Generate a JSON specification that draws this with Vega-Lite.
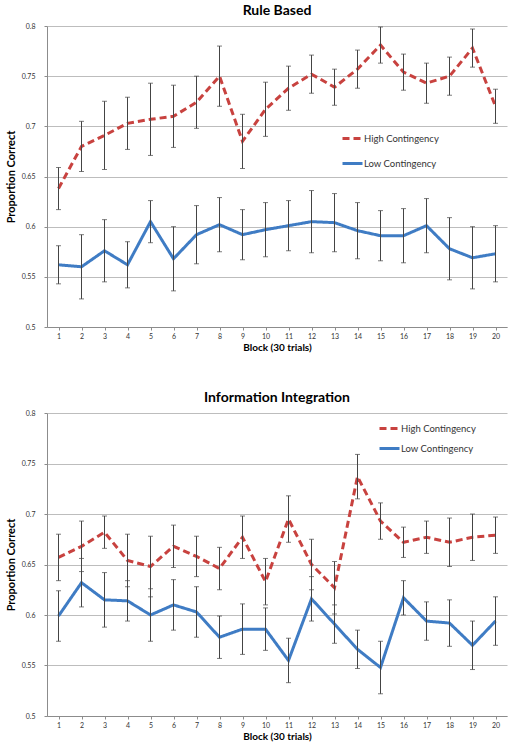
{
  "$schema": "https://vega.github.io/schema/vega-lite/v6.json",
  "padding": {"left": 5, "top": 4, "right": 5, "bottom": 4},
  "background": "white",
  "config": {
    "font": "Lato",
    "view": {"stroke": null},
    "title": {"fontSize": 14, "fontWeight": "bold", "color": "#000000", "offset": 4, "anchor": "middle"},
    "axis": {
      "labelFontSize": 7,
      "labelColor": "#333333",
      "titleFontSize": 11,
      "titleFontWeight": "bold",
      "titleColor": "#000000",
      "domainColor": "#8c8c8c",
      "tickColor": "#8c8c8c",
      "gridColor": "#bdbdbd",
      "gridWidth": 1
    },
    "legend": {"labelFontSize": 9.5, "labelColor": "#333333"}
  },
  "datasets": {
    "rb": [
      {"b": 1, "s": "High Contingency", "v": 0.638, "lo": 0.617, "hi": 0.659},
      {"b": 2, "s": "High Contingency", "v": 0.680, "lo": 0.655, "hi": 0.705},
      {"b": 3, "s": "High Contingency", "v": 0.691, "lo": 0.657, "hi": 0.725},
      {"b": 4, "s": "High Contingency", "v": 0.703, "lo": 0.677, "hi": 0.729},
      {"b": 5, "s": "High Contingency", "v": 0.707, "lo": 0.671, "hi": 0.743},
      {"b": 6, "s": "High Contingency", "v": 0.710, "lo": 0.679, "hi": 0.741},
      {"b": 7, "s": "High Contingency", "v": 0.724, "lo": 0.698, "hi": 0.750},
      {"b": 8, "s": "High Contingency", "v": 0.750, "lo": 0.720, "hi": 0.780},
      {"b": 9, "s": "High Contingency", "v": 0.685, "lo": 0.658, "hi": 0.712},
      {"b": 10, "s": "High Contingency", "v": 0.717, "lo": 0.690, "hi": 0.744},
      {"b": 11, "s": "High Contingency", "v": 0.738, "lo": 0.716, "hi": 0.760},
      {"b": 12, "s": "High Contingency", "v": 0.752, "lo": 0.733, "hi": 0.771},
      {"b": 13, "s": "High Contingency", "v": 0.739, "lo": 0.721, "hi": 0.757},
      {"b": 14, "s": "High Contingency", "v": 0.757, "lo": 0.738, "hi": 0.776},
      {"b": 15, "s": "High Contingency", "v": 0.781, "lo": 0.763, "hi": 0.799},
      {"b": 16, "s": "High Contingency", "v": 0.754, "lo": 0.736, "hi": 0.772},
      {"b": 17, "s": "High Contingency", "v": 0.743, "lo": 0.723, "hi": 0.763},
      {"b": 18, "s": "High Contingency", "v": 0.750, "lo": 0.731, "hi": 0.769},
      {"b": 19, "s": "High Contingency", "v": 0.778, "lo": 0.759, "hi": 0.797},
      {"b": 20, "s": "High Contingency", "v": 0.720, "lo": 0.703, "hi": 0.737},
      {"b": 1, "s": "Low Contingency", "v": 0.562, "lo": 0.543, "hi": 0.581},
      {"b": 2, "s": "Low Contingency", "v": 0.560, "lo": 0.528, "hi": 0.592},
      {"b": 3, "s": "Low Contingency", "v": 0.576, "lo": 0.545, "hi": 0.607},
      {"b": 4, "s": "Low Contingency", "v": 0.562, "lo": 0.539, "hi": 0.585},
      {"b": 5, "s": "Low Contingency", "v": 0.605, "lo": 0.584, "hi": 0.626},
      {"b": 6, "s": "Low Contingency", "v": 0.568, "lo": 0.536, "hi": 0.600},
      {"b": 7, "s": "Low Contingency", "v": 0.592, "lo": 0.563, "hi": 0.621},
      {"b": 8, "s": "Low Contingency", "v": 0.602, "lo": 0.575, "hi": 0.629},
      {"b": 9, "s": "Low Contingency", "v": 0.592, "lo": 0.567, "hi": 0.617},
      {"b": 10, "s": "Low Contingency", "v": 0.597, "lo": 0.570, "hi": 0.624},
      {"b": 11, "s": "Low Contingency", "v": 0.601, "lo": 0.576, "hi": 0.626},
      {"b": 12, "s": "Low Contingency", "v": 0.605, "lo": 0.574, "hi": 0.636},
      {"b": 13, "s": "Low Contingency", "v": 0.604, "lo": 0.575, "hi": 0.633},
      {"b": 14, "s": "Low Contingency", "v": 0.596, "lo": 0.568, "hi": 0.624},
      {"b": 15, "s": "Low Contingency", "v": 0.591, "lo": 0.566, "hi": 0.616},
      {"b": 16, "s": "Low Contingency", "v": 0.591, "lo": 0.564, "hi": 0.618},
      {"b": 17, "s": "Low Contingency", "v": 0.601, "lo": 0.574, "hi": 0.628},
      {"b": 18, "s": "Low Contingency", "v": 0.578, "lo": 0.547, "hi": 0.609},
      {"b": 19, "s": "Low Contingency", "v": 0.569, "lo": 0.538, "hi": 0.600},
      {"b": 20, "s": "Low Contingency", "v": 0.573, "lo": 0.545, "hi": 0.601}
    ],
    "ii": [
      {"b": 1, "s": "High Contingency", "v": 0.657, "lo": 0.634, "hi": 0.680},
      {"b": 2, "s": "High Contingency", "v": 0.668, "lo": 0.643, "hi": 0.693},
      {"b": 3, "s": "High Contingency", "v": 0.682, "lo": 0.666, "hi": 0.698},
      {"b": 4, "s": "High Contingency", "v": 0.654, "lo": 0.628, "hi": 0.680},
      {"b": 5, "s": "High Contingency", "v": 0.648, "lo": 0.618, "hi": 0.678},
      {"b": 6, "s": "High Contingency", "v": 0.668, "lo": 0.647, "hi": 0.689},
      {"b": 7, "s": "High Contingency", "v": 0.658, "lo": 0.638, "hi": 0.678},
      {"b": 8, "s": "High Contingency", "v": 0.646, "lo": 0.625, "hi": 0.667},
      {"b": 9, "s": "High Contingency", "v": 0.677, "lo": 0.656, "hi": 0.698},
      {"b": 10, "s": "High Contingency", "v": 0.633, "lo": 0.610, "hi": 0.656},
      {"b": 11, "s": "High Contingency", "v": 0.695, "lo": 0.672, "hi": 0.718},
      {"b": 12, "s": "High Contingency", "v": 0.650, "lo": 0.625, "hi": 0.675},
      {"b": 13, "s": "High Contingency", "v": 0.627, "lo": 0.601, "hi": 0.653},
      {"b": 14, "s": "High Contingency", "v": 0.737, "lo": 0.715, "hi": 0.759},
      {"b": 15, "s": "High Contingency", "v": 0.693, "lo": 0.675, "hi": 0.711},
      {"b": 16, "s": "High Contingency", "v": 0.672, "lo": 0.657, "hi": 0.687},
      {"b": 17, "s": "High Contingency", "v": 0.677, "lo": 0.661, "hi": 0.693},
      {"b": 18, "s": "High Contingency", "v": 0.672, "lo": 0.648, "hi": 0.696},
      {"b": 19, "s": "High Contingency", "v": 0.677, "lo": 0.654, "hi": 0.700},
      {"b": 20, "s": "High Contingency", "v": 0.679, "lo": 0.661, "hi": 0.697},
      {"b": 1, "s": "Low Contingency", "v": 0.599, "lo": 0.574, "hi": 0.624},
      {"b": 2, "s": "Low Contingency", "v": 0.632, "lo": 0.608, "hi": 0.656},
      {"b": 3, "s": "Low Contingency", "v": 0.615, "lo": 0.588, "hi": 0.642},
      {"b": 4, "s": "Low Contingency", "v": 0.614, "lo": 0.594, "hi": 0.634},
      {"b": 5, "s": "Low Contingency", "v": 0.600, "lo": 0.574, "hi": 0.626},
      {"b": 6, "s": "Low Contingency", "v": 0.610, "lo": 0.585, "hi": 0.635},
      {"b": 7, "s": "Low Contingency", "v": 0.603, "lo": 0.578, "hi": 0.628},
      {"b": 8, "s": "Low Contingency", "v": 0.578, "lo": 0.557, "hi": 0.599},
      {"b": 9, "s": "Low Contingency", "v": 0.586, "lo": 0.561, "hi": 0.611},
      {"b": 10, "s": "Low Contingency", "v": 0.586, "lo": 0.565, "hi": 0.607},
      {"b": 11, "s": "Low Contingency", "v": 0.555, "lo": 0.533, "hi": 0.577},
      {"b": 12, "s": "Low Contingency", "v": 0.616, "lo": 0.594, "hi": 0.638},
      {"b": 13, "s": "Low Contingency", "v": 0.591, "lo": 0.572, "hi": 0.610},
      {"b": 14, "s": "Low Contingency", "v": 0.566, "lo": 0.547, "hi": 0.585},
      {"b": 15, "s": "Low Contingency", "v": 0.548, "lo": 0.522, "hi": 0.574},
      {"b": 16, "s": "Low Contingency", "v": 0.617, "lo": 0.600, "hi": 0.634},
      {"b": 17, "s": "Low Contingency", "v": 0.594, "lo": 0.575, "hi": 0.613},
      {"b": 18, "s": "Low Contingency", "v": 0.592, "lo": 0.569, "hi": 0.615},
      {"b": 19, "s": "Low Contingency", "v": 0.570, "lo": 0.546, "hi": 0.594},
      {"b": 20, "s": "Low Contingency", "v": 0.594, "lo": 0.570, "hi": 0.618}
    ]
  },
  "spacing": 39,
  "resolve": {"scale": {"color": "independent", "strokeDash": "independent"}},
  "vconcat": [
    {
      "title": "Rule Based",
      "width": 460,
      "height": 301,
      "data": {"name": "rb"},
      "encoding": {
        "x": {
          "field": "b", "type": "ordinal",
          "scale": {"type": "point", "padding": 0.5},
          "axis": {"title": "Block (30 trials)", "titleFontSize": 10, "labelAngle": 0, "labelPadding": 2, "tickSize": 3, "titlePadding": 3, "grid": false}
        }
      },
      "layer": [
        {
          "mark": {"type": "line", "strokeWidth": 3, "strokeCap": "butt"},
          "encoding": {
            "y": {
              "field": "v", "type": "quantitative", "title": "Proportion Correct",
              "scale": {"domain": [0.5, 0.8], "nice": false, "zero": false},
              "axis": {"values": [0.5, 0.55, 0.6, 0.65, 0.7, 0.75, 0.8], "format": ".2~f", "grid": true, "tickSize": 3, "labelPadding": 9, "titlePadding": 5}
            },
            "color": {
              "field": "s", "type": "nominal",
              "scale": {"domain": ["High Contingency", "Low Contingency"], "range": ["#c8423f", "#3f7cc4"]},
              "legend": {"orient": "none", "legendX": 294, "legendY": 101, "title": null, "symbolType": "stroke", "symbolSize": 400, "symbolStrokeWidth": 3, "rowPadding": 7, "labelOffset": 0}
            },
            "strokeDash": {
              "field": "s", "type": "nominal",
              "scale": {"domain": ["High Contingency", "Low Contingency"], "range": [[7, 4], [1, 0]]},
              "legend": {"orient": "none", "legendX": 294, "legendY": 101, "title": null, "symbolType": "stroke", "symbolSize": 400, "symbolStrokeWidth": 3, "rowPadding": 7, "labelOffset": 0}
            }
          }
        },
        {
          "mark": {"type": "rule", "color": "#444444", "strokeWidth": 1},
          "encoding": {
            "y": {"field": "lo", "type": "quantitative", "title": "Proportion Correct"},
            "y2": {"field": "hi"},
            "detail": {"field": "s"}
          }
        },
        {
          "mark": {"type": "tick", "color": "#444444", "thickness": 1, "size": 5},
          "encoding": {"y": {"field": "lo", "type": "quantitative", "title": "Proportion Correct"}}
        },
        {
          "mark": {"type": "tick", "color": "#444444", "thickness": 1, "size": 5},
          "encoding": {"y": {"field": "hi", "type": "quantitative", "title": "Proportion Correct"}}
        }
      ]
    },
    {
      "title": "Information Integration",
      "width": 460,
      "height": 303,
      "data": {"name": "ii"},
      "encoding": {
        "x": {
          "field": "b", "type": "ordinal",
          "scale": {"type": "point", "padding": 0.5},
          "axis": {"title": "Block (30 trials)", "titleFontSize": 10, "labelAngle": 0, "labelPadding": 2, "tickSize": 3, "titlePadding": 3, "grid": false}
        }
      },
      "layer": [
        {
          "mark": {"type": "line", "strokeWidth": 3, "strokeCap": "butt"},
          "encoding": {
            "y": {
              "field": "v", "type": "quantitative", "title": "Proportion Correct",
              "scale": {"domain": [0.5, 0.8], "nice": false, "zero": false},
              "axis": {"values": [0.5, 0.55, 0.6, 0.65, 0.7, 0.75, 0.8], "format": ".2~f", "grid": true, "tickSize": 3, "labelPadding": 9, "titlePadding": 5}
            },
            "color": {
              "field": "s", "type": "nominal",
              "scale": {"domain": ["High Contingency", "Low Contingency"], "range": ["#c8423f", "#3f7cc4"]},
              "legend": {"orient": "none", "legendX": 331, "legendY": 4, "title": null, "symbolType": "stroke", "symbolSize": 400, "symbolStrokeWidth": 3, "rowPadding": 2, "labelOffset": 0}
            },
            "strokeDash": {
              "field": "s", "type": "nominal",
              "scale": {"domain": ["High Contingency", "Low Contingency"], "range": [[7, 4], [1, 0]]},
              "legend": {"orient": "none", "legendX": 331, "legendY": 4, "title": null, "symbolType": "stroke", "symbolSize": 400, "symbolStrokeWidth": 3, "rowPadding": 2, "labelOffset": 0}
            }
          }
        },
        {
          "mark": {"type": "rule", "color": "#444444", "strokeWidth": 1},
          "encoding": {
            "y": {"field": "lo", "type": "quantitative", "title": "Proportion Correct"},
            "y2": {"field": "hi"},
            "detail": {"field": "s"}
          }
        },
        {
          "mark": {"type": "tick", "color": "#444444", "thickness": 1, "size": 5},
          "encoding": {"y": {"field": "lo", "type": "quantitative", "title": "Proportion Correct"}}
        },
        {
          "mark": {"type": "tick", "color": "#444444", "thickness": 1, "size": 5},
          "encoding": {"y": {"field": "hi", "type": "quantitative", "title": "Proportion Correct"}}
        }
      ]
    }
  ]
}
